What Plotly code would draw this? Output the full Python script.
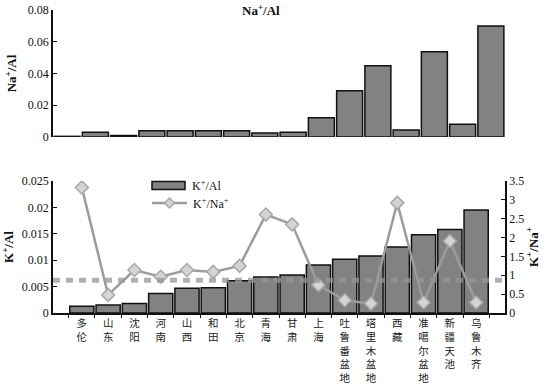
import plotly.graph_objects as go

categories = ["多伦", "山东", "沈阳", "河南", "山西", "和田", "北京", "青海", "甘肃", "上海",
              "吐鲁番盆地", "塔里木盆地", "西藏", "准噶尔盆地", "新疆天池", "乌鲁木齐"]
na_al = [0.0004, 0.003, 0.001, 0.004, 0.004, 0.004, 0.004, 0.0025, 0.003, 0.0122,
         0.0292, 0.0449, 0.0044, 0.0537, 0.008, 0.0699]
k_al = [0.0013, 0.0015, 0.0018, 0.0037, 0.0047, 0.0048, 0.0061, 0.0068, 0.0072, 0.0091,
        0.0102, 0.0108, 0.0125, 0.0148, 0.0158, 0.0195]
k_na = [3.33, 0.48, 1.14, 0.96, 1.14, 1.09, 1.25, 2.61, 2.35, 0.74,
        0.34, 0.25, 2.92, 0.28, 1.91, 0.28]
k_na_ref = 0.87

tick_text = ["<br>".join(list(c)) for c in categories]

serif = "Liberation Serif"
bar_fill = "#828282"
line_col = "#9c9c9c"

W, H = 549, 386
L, R, T, B = 53, 505, 10, 313  # plot area in screen pixels

def px_x(p):
    return (p - L) / float(R - L)

def px_y(p):
    return (B - p) / float(B - T)

fig = go.Figure()
fig.add_trace(go.Bar(x=categories, y=na_al, xaxis="x", yaxis="y", showlegend=False,
                     marker=dict(color=bar_fill, line=dict(color="#111", width=1.5))))
fig.add_trace(go.Bar(x=categories, y=k_al, xaxis="x2", yaxis="y2", showlegend=False,
                     marker=dict(color=bar_fill, line=dict(color="#111", width=1.5))))
fig.add_trace(go.Scatter(x=categories, y=k_na, xaxis="x2", yaxis="y3", showlegend=False,
                         mode="lines+markers",
                         line=dict(color=line_col, width=2.5),
                         marker=dict(symbol="diamond", size=10, color="#d4d4d4",
                                     line=dict(color="#a8a8a8", width=1.5))))

shapes = [
    dict(type="line", xref="x2 domain", yref="y3", x0=0, x1=1, y0=k_na_ref, y1=k_na_ref,
         line=dict(color="rgba(150,150,150,0.75)", width=5, dash="7px,6px"), layer="above"),
    # custom legend
    dict(type="rect", xref="paper", yref="paper", x0=px_x(152), x1=px_x(185), y0=px_y(189.5), y1=px_y(181.5),
         fillcolor=bar_fill, line=dict(color="#111", width=1.5)),
    dict(type="line", xref="paper", yref="paper", x0=px_x(152), x1=px_x(187), y0=px_y(203), y1=px_y(203),
         line=dict(color=line_col, width=2.5)),
    dict(type="path", xref="paper", yref="paper",
         path="M {a},{b} L {c},{d} L {a},{e} L {f},{d} Z".format(
             a=px_x(169.5), b=px_y(198), c=px_x(174.5), d=px_y(203), e=px_y(208), f=px_x(164.5)),
         fillcolor="#d4d4d4", line=dict(color="#a8a8a8", width=1.5)),
]

annotations = [
    dict(text="<b>Na<sup>+</sup>/Al</b>", x=px_x(261), y=px_y(0), xref="paper", yref="paper",
         xanchor="center", yanchor="top", showarrow=False, font=dict(family=serif, size=13)),
    dict(text="K<sup>+</sup>/Al", x=px_x(190), y=px_y(185.5), xref="paper", yref="paper",
         xanchor="left", yanchor="middle", showarrow=False, font=dict(family=serif, size=12)),
    dict(text="K<sup>+</sup>/Na<sup>+</sup>", x=px_x(191), y=px_y(203.5), xref="paper", yref="paper",
         xanchor="left", yanchor="middle", showarrow=False, font=dict(family=serif, size=12)),
]

fig.update_layout(
    width=W, height=H,
    margin=dict(l=L, r=W - R, t=T, b=H - B),
    paper_bgcolor="white", plot_bgcolor="white",
    bargap=0.08,
    showlegend=False,
    font=dict(family=serif, size=12, color="#111"),
    xaxis=dict(domain=[0, 1], anchor="y", categoryorder="array", categoryarray=categories,
               showticklabels=False, showline=False, ticks="", showgrid=False, automargin=False),
    yaxis=dict(domain=[px_y(137), 1.0], range=[0, 0.08], anchor="x", tickvals=[0, 0.02, 0.04, 0.06, 0.08],
               ticktext=["0", "0.02", "0.04", "0.06", "0.08"], automargin=False,
               showline=True, linecolor="#111", linewidth=1.5, ticks="inside", ticklen=4,
               tickcolor="#111", showgrid=False, zeroline=False,
               title=dict(text="<b>Na<sup>+</sup>/Al</b>", standoff=8, font=dict(size=13))),
    xaxis2=dict(domain=[0, 1], anchor="y2", categoryorder="array", categoryarray=categories,
                tickvals=categories, ticktext=tick_text, tickson="boundaries", automargin=False,
                showline=True, linecolor="#111", linewidth=1.5, ticks="outside", ticklen=3,
                tickcolor="#111", showgrid=False,
                tickfont=dict(family="Noto Sans CJK SC", size=10.5, color="#222")),
    yaxis2=dict(domain=[0, px_y(181)], range=[0, 0.025], anchor="x2", automargin=False,
                tickvals=[0, 0.005, 0.01, 0.015, 0.02, 0.025],
                ticktext=["0", "0.005", "0.01", "0.015", "0.02", "0.025"],
                showline=True, linecolor="#111", linewidth=1.5, ticks="inside", ticklen=4,
                tickcolor="#111", showgrid=False, zeroline=False,
                title=dict(text="<b>K<sup>+</sup>/Al</b>", standoff=6, font=dict(size=13))),
    yaxis3=dict(overlaying="y2", side="right", anchor="x2", range=[0, 3.5], automargin=False,
                tickvals=[0, 0.5, 1, 1.5, 2, 2.5, 3, 3.5],
                ticktext=["0", "0.5", "1", "1.5", "2", "2.5", "3", "3.5"],
                showline=True, linecolor="#111", linewidth=1.5, ticks="inside", ticklen=4,
                tickcolor="#111", showgrid=False, zeroline=False,
                title=dict(text="<b>K<sup>+</sup>/Na<sup>+</sup></b>", standoff=4, font=dict(size=13))),
    shapes=shapes,
    annotations=annotations,
)

fig.write_html("out.html", config={"displayModeBar": False},
               post_script="document.body.style.margin='0';")
